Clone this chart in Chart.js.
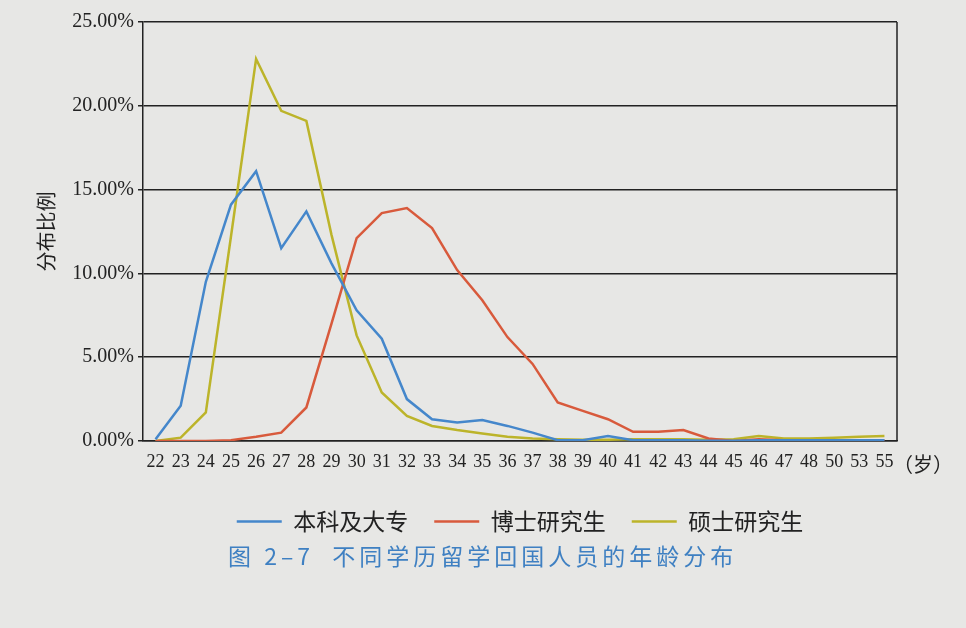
<!DOCTYPE html>
<html lang="zh">
<head>
<meta charset="utf-8">
<title>不同学历留学回国人员的年龄分布</title>
<script src="https://cdn.jsdelivr.net/npm/chart.js@4.4.1/dist/chart.umd.min.js"></script>
<style>
    html, body { margin: 0; padding: 0; background: #e7e7e5; }
    #wrap { position: relative; width: 966px; height: 628px; overflow: hidden; }
    #unit { position: absolute; left: 893px; top: 449px; font: 20px "Noto Sans CJK SC"; color: #222; white-space: nowrap; }
    #caption { position: absolute; left: 228px; top: 538px; font: 23px "Noto Sans CJK SC"; color: #3f80c2; letter-spacing: 4px; white-space: nowrap; }
</style>
</head>
<body>
<div id="wrap">
    <canvas id="chart" width="966" height="628"></canvas>
    <div id="unit">（岁）</div>
    <div id="caption">图 2–7&nbsp; 不同学历留学回国人员的年龄分布</div>
</div>
<script>
// DATA (percent)
const ages = ['22','23','24','25','26','27','28','29','30','31','32','33','34','35','36','37','38','39','40','41','42','43','44','45','46','47','48','50','53','55'];
const bachelor = [0.1,2.1,9.5,14.1,16.1,11.5,13.7,10.6,7.8,6.1,2.5,1.3,1.1,1.25,0.9,0.5,0.05,0.05,0.3,0.05,0.05,0.05,0.02,0.02,0.05,0.05,0.05,0.05,0.05,0.05];
const doctor = [0,0,0,0.05,0.25,0.5,2.0,7.0,12.1,13.6,13.9,12.7,10.2,8.4,6.2,4.6,2.3,1.8,1.3,0.55,0.55,0.65,0.15,0,0.1,0.05,0.05,0.05,0.05,0.05];
const master = [0,0.2,1.7,12.2,22.8,19.7,19.1,12.3,6.3,2.9,1.5,0.9,0.65,0.45,0.25,0.15,0.1,0.08,0.08,0.1,0.1,0.1,0.08,0.1,0.3,0.15,0.15,0.2,0.25,0.3];
const yTicks = [0, 5, 10, 15, 20, 25];

const BLUE = "#4587cb";
const RED = "#d85a3c";
const YELLOW = "#bcb42a";
const INK = "#222222";

// right-hand frame line of the plot box
const frame = {
    id: "frame",
    afterDraw(chart) {
        const a = chart.chartArea;
        const ctx = chart.ctx;
        ctx.save();
        ctx.strokeStyle = INK;
        ctx.lineWidth = 1.5;
        ctx.beginPath();
        ctx.moveTo(a.right, a.top);
        ctx.lineTo(a.right, a.bottom);
        ctx.stroke();
        ctx.restore();
    }
};

function line(label, data, color) {
    return {
        label: label,
        data: data,
        borderColor: color,
        backgroundColor: color,
        borderWidth: 2.5,
        pointRadius: 0,
        tension: 0,
        fill: false
    };
}

new Chart(document.getElementById("chart"), {
    type: "line",
    data: {
        labels: ages,
        datasets: [
            line("本科及大专", bachelor, BLUE),
            line("博士研究生", doctor, RED),
            line("硕士研究生", master, YELLOW)
        ]
    },
    options: {
        responsive: false,
        animation: false,
        layout: { padding: { top: 22, left: 34, right: 69, bottom: 85 } },
        plugins: {
            tooltip: { enabled: false },
            legend: {
                position: "bottom",
                fullSize: false,
                labels: {
                    usePointStyle: true,
                    pointStyle: "line",
                    pointStyleWidth: 45,
                    padding: 26,
                    color: INK,
                    font: { family: "Noto Sans CJK SC", size: 23 }
                }
            }
        },
        scales: {
            x: {
                offset: true,
                grid: { display: false, drawTicks: false },
                border: { display: true, color: INK, width: 1.5 },
                ticks: {
                    padding: 10,
                    autoSkip: false,
                    maxRotation: 0,
                    color: INK,
                    font: { family: "Liberation Serif", size: 18 }
                },
                afterFit: (s) => { s.height = 43; }
            },
            y: {
                min: 0,
                max: 25,
                afterBuildTicks: (s) => { s.ticks = yTicks.map(v => ({ value: v })); },
                grid: { color: INK, lineWidth: 1.5, tickLength: 5 },
                border: { display: true, color: INK, width: 1.5 },
                ticks: {
                    padding: 4,
                    color: INK,
                    font: { family: "Liberation Serif", size: 20 },
                    callback: (v) => v.toFixed(2) + "%"
                },
                title: {
                    display: true,
                    text: "分布比例",
                    color: INK,
                    padding: { top: 0, bottom: 0 },
                    font: { family: "Noto Sans CJK SC", size: 20 }
                },
                afterFit: (s) => { s.width = 109; }
            }
        }
    },
    plugins: [frame]
});
</script>
</body>
</html>
